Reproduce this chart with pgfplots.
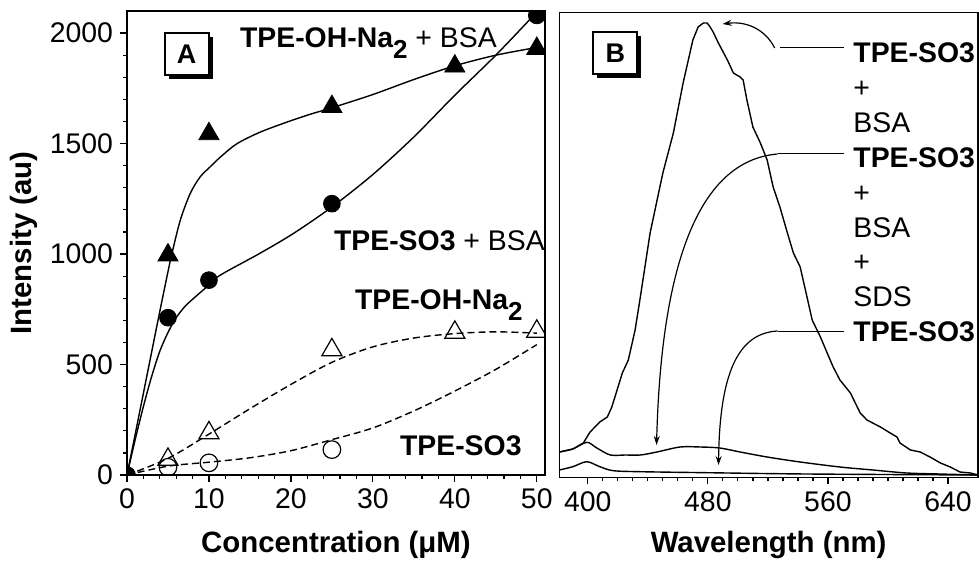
\documentclass[border=0pt]{standalone}
\usepackage{fontspec}
\setmainfont{Liberation Sans}
\usepackage{pgfplots}
\pgfplotsset{compat=1.18}
\usetikzlibrary{arrows.meta,shadows}

\newcommand{\lab}{\fontsize{14.2}{14.2}\selectfont}
\newcommand{\sub}[1]{\raisebox{-5.5pt}{\fontsize{13}{13}\selectfont #1}}

\tikzset{
  box/.style={draw, line width=0.9pt, fill=white, inner sep=0pt,
    minimum width=22pt, minimum height=21pt, font=\fontsize{13.5}{13.5}\selectfont\bfseries,
    drop shadow={shadow xshift=2pt, shadow yshift=-2pt, fill=black, opacity=1}},
  rlab/.style={anchor=base west, font=\lab, inner sep=0pt},
}

\begin{document}
\begin{tikzpicture}
\useasboundingbox (-63.5pt,-46.5pt) rectangle (426pt,237.5pt);
\pgfplotsset{
  every axis/.append style={
    scale only axis, tick align=outside, tick pos=left,
    major tick length=3.5pt, minor tick length=2pt,
    tick style={black, line width=0.6pt},
    axis line style={line width=0.8pt},
    tick label style={font=\lab},
    /pgf/number format/assume math mode=true,
    /pgf/number format/set thousands separator={},
    clip marker paths=true,
  },
  fitline/.style={black, line width=0.7pt, smooth, no markers},
  dfitline/.style={black, line width=0.7pt, smooth, no markers, dash pattern=on 3.5pt off 2pt},
}

% ---------- panel A ----------
\begin{axis}[
  name=A, at={(0,0)}, anchor=south west,
  width=209pt, height=232pt,
  xmin=0, xmax=51, ymin=0, ymax=2100,
  xtick={0,10,...,50}, ytick={0,500,...,2000},
  minor x tick num=4, minor y tick num=4,
  xlabel={Concentration (μM)}, ylabel={Intensity (au)},
  xlabel style={at={([yshift=-38.5pt]axis description cs:0.5,0)}, anchor=base, font=\fontsize{14.7}{14.7}\selectfont\bfseries},
  ylabel style={at={([xshift=-51.5pt]axis description cs:0,0.5)}, anchor=center, font=\fontsize{14.7}{14.7}\selectfont\bfseries},
]
% fitted curves
\addplot[fitline] coordinates {(0,0) (1,185) (2,370) (3,555) (4,740) (5,920) (5.5,1005) (6.5,1153) (7.7,1273) (8.9,1348) (10.1,1393) (11.4,1439) (13.4,1499) (16.2,1551) (19.5,1597) (22.3,1632) (25,1662) (30,1722) (35,1790) (40,1852) (45,1900) (50,1935)};
\addplot[fitline] coordinates {(0,0) (1,160) (2,310) (3,445) (4,560) (5,645) (6,712) (7,760) (7.9,792) (10,860) (11.4,905) (16.2,1003) (20.3,1093) (25,1213) (30,1360) (35,1530) (40,1719) (45,1900) (50,2095)};
\addplot[dfitline] coordinates {(0,0) (5,75) (10,185) (15,300) (20,410) (25,510) (30,580) (35,620) (40,640) (45,648) (50,642)};
\addplot[dfitline] coordinates {(0,0) (5,40) (10,58) (15,78) (20,110) (25,160) (30,213) (35,290) (40,380) (45,478) (50,590)};
% measured points
\addplot[only marks, mark=triangle*, mark size=5.8pt, black] coordinates {(0,0) (5,995) (10,1544) (25,1667) (40,1850) (50,1930)};
\addplot[only marks, mark=*, mark size=4.2pt, black] coordinates {(0,0) (5,712) (10,882) (25,1228) (50,2080)};
\addplot[only marks, mark=triangle, mark size=5.8pt, black, line width=0.6pt, mark options={fill=white}] coordinates {(5,70) (10,190) (25,566) (40,645) (50,650)};
\addplot[only marks, mark=o, mark size=4.4pt, black, line width=0.6pt, mark options={fill=white}] coordinates {(5,35) (10,55) (25,115)};
\node[box] at (axis cs:7.28,1904) {A};
\node[anchor=base west, font=\lab] at (axis cs:12.93,1937) {\textbf{TPE-OH-Na\sub{2}} + BSA};
\node[anchor=base west, font=\lab] at (axis cs:24.4,1018) {\textbf{TPE-SO3} + BSA};
\node[anchor=base west, font=\lab] at (axis cs:26.96,747) {\textbf{TPE-OH-Na\sub{2}}};
\node[anchor=base west, font=\lab] at (axis cs:32.45,90) {\textbf{TPE-SO3}};
\end{axis}

% ---------- panel B ----------
\begin{axis}[
  name=B, at={(216.15pt,-1.15pt)}, anchor=south west,
  width=209.35pt, height=232.3pt,
  xmin=381, xmax=660, ymin=1.7, ymax=466.3,
  xtick={400,480,560,640}, minor x tick num=7, ytick=\empty,
  xlabel={Wavelength (nm)},
  xlabel style={at={([yshift=-37.4pt]axis description cs:0.5,0)}, anchor=base, font=\fontsize{14.7}{14.7}\selectfont\bfseries},
]
% TPE-SO3 + BSA
\addplot[black, line width=0.7pt] coordinates {
(381,27) (390,30) (397,36) (401.5,47) (408,57) (413,62) (416,72) (419.5,89) (423,106) (427,119)
(431.5,149) (435,182) (441.5,246) (450,306) (457,346) (463.5,396) (470,439) (473.5,452) (477,456)
(479.5,456) (481.5,452) (483.5,447) (487,436) (493,419) (497,406) (501.5,402) (503.5,399) (506,379)
(510,352) (515,336) (519.5,319) (523.5,292) (528,272) (533,246) (537,226) (541.5,212) (545,189)
(549.5,159) (555,142) (559.5,126) (563.5,112) (568,99) (575,86) (581.5,66) (586,59) (595,52)
(601.5,46) (606,42) (608,36) (615,29) (621.5,27) (628,22) (635,16) (641.5,12) (648,7) (655,6) (660,4)};
% TPE-SO3 + BSA + SDS
\addplot[black, line width=0.7pt, smooth] coordinates {
(381,27) (390,30) (399.3,36.7) (406,31) (415,24) (425,24) (435,24) (446,27) (461.5,32) (475,32)
(488,31) (501.5,27) (519.5,22) (541.5,17) (568,12) (590,9) (612.5,6) (634.5,5) (660,4)};
% TPE-SO3
\addplot[black, line width=0.7pt, smooth] coordinates {
(381,9) (390,12.3) (399.3,17.3) (408,12.3) (417,8.3) (435,7.3) (479.5,6.3) (546,5) (660,4)};
\node[box] at (axis cs:418.3,425.7) {B};
% labels
\node[rlab] at (axis cs:576.7,416) {\textbf{TPE-SO3}};
\node[rlab] at (axis cs:576.7,381.2) {+};
\node[rlab] at (axis cs:576.7,346.4) {BSA};
\node[rlab] at (axis cs:576.7,311.6) {\textbf{TPE-SO3}};
\node[rlab] at (axis cs:576.7,276.8) {+};
\node[rlab] at (axis cs:576.7,242) {BSA};
\node[rlab] at (axis cs:576.7,207.2) {+};
\node[rlab] at (axis cs:576.7,172.4) {SDS};
\node[rlab] at (axis cs:576.7,137.6) {\textbf{TPE-SO3}};
% leader lines
\draw[line width=0.5pt] (axis cs:527.8,431) -- (axis cs:571,431);
\draw[line width=0.5pt] (axis cs:526.5,325) -- (axis cs:571,325);
\draw[line width=0.5pt] (axis cs:526.5,148) -- (axis cs:571,148);
\draw[line width=0.6pt, -{Stealth[length=4.5pt,width=3pt]}] (axis cs:524.5,431) .. controls (axis cs:517.8,451) and (axis cs:504.5,458) .. (axis cs:489.8,455);
\draw[line width=0.6pt, -{Stealth[length=4.5pt,width=3pt]}] (axis cs:526.5,325) .. controls (axis cs:477.8,319) and (axis cs:449.1,229) .. (axis cs:445.8,34);
\draw[line width=0.6pt, -{Stealth[length=4.5pt,width=3pt]}] (axis cs:526.5,148) .. controls (axis cs:501.1,146) and (axis cs:487.8,109) .. (axis cs:487.1,14);
\end{axis}
\end{tikzpicture}
\end{document}
